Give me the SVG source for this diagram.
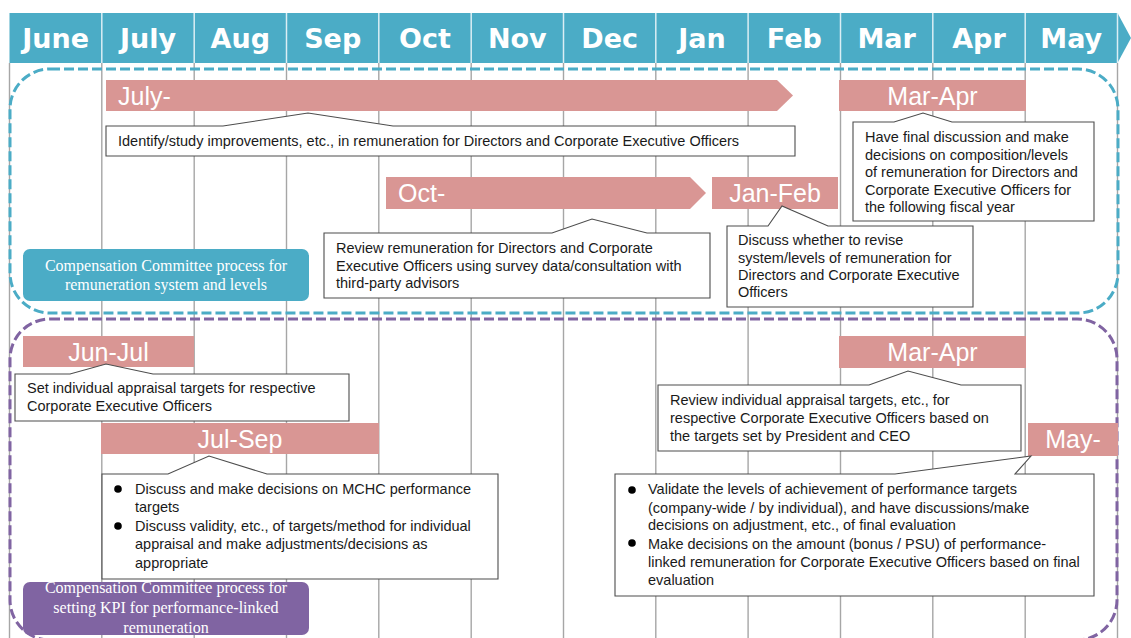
<svg xmlns="http://www.w3.org/2000/svg" width="1131" height="638" viewBox="0 0 1131 638">
<style>
.hdr{font-family:"DejaVu Sans",Verdana,sans-serif;font-weight:bold;font-size:27px;fill:#fff;text-anchor:middle}
.grid{stroke:#a6a6a6;stroke-width:1.4}
.hdiv{stroke:#dbeef4;stroke-width:1.5}
.bar{fill:#d99694}
.bt{font-family:"Liberation Sans",Arial,sans-serif;font-size:25px;fill:#fff}
.co{fill:#fff;stroke:#4d4d4d;stroke-width:1.1}
.ct{font-family:"Liberation Sans",Arial,sans-serif;font-size:14.5px;fill:#1a1a1a}
.lb{font-family:"Liberation Serif","Times New Roman",serif;font-size:16px;fill:#fff;text-anchor:middle}
.dash{fill:none;stroke-width:3;stroke-dasharray:10 4}
</style>
<rect width="1131" height="638" fill="#fff"/>
<g id="header">
<path d="M9.5,13 H1117.5 L1131,38 L1117.5,63 H9.5 Z" fill="#4bacc6"/>
<g class="hdiv">
<line x1="101.8" y1="13" x2="101.8" y2="63"/><line x1="194.2" y1="13" x2="194.2" y2="63"/><line x1="286.5" y1="13" x2="286.5" y2="63"/><line x1="378.8" y1="13" x2="378.8" y2="63"/><line x1="471.2" y1="13" x2="471.2" y2="63"/><line x1="563.5" y1="13" x2="563.5" y2="63"/><line x1="655.8" y1="13" x2="655.8" y2="63"/><line x1="748.1" y1="13" x2="748.1" y2="63"/><line x1="840.5" y1="13" x2="840.5" y2="63"/><line x1="932.8" y1="13" x2="932.8" y2="63"/><line x1="1025.2" y1="13" x2="1025.2" y2="63"/><line x1="1117.5" y1="13" x2="1117.5" y2="63"/>
</g>
<text class="hdr" x="55.7" y="48">June</text>
<text class="hdr" x="148" y="48">July</text>
<text class="hdr" x="240.3" y="48">Aug</text>
<text class="hdr" x="332.7" y="48">Sep</text>
<text class="hdr" x="425" y="48">Oct</text>
<text class="hdr" x="517.3" y="48">Nov</text>
<text class="hdr" x="609.7" y="48">Dec</text>
<text class="hdr" x="702" y="48">Jan</text>
<text class="hdr" x="794.3" y="48">Feb</text>
<text class="hdr" x="886.7" y="48">Mar</text>
<text class="hdr" x="979" y="48">Apr</text>
<text class="hdr" x="1071.3" y="48">May</text>
</g>
<g id="grid" class="grid">
<line x1="9.5" y1="63" x2="9.5" y2="638"/><line x1="101.8" y1="63" x2="101.8" y2="638"/><line x1="194.2" y1="63" x2="194.2" y2="638"/><line x1="286.5" y1="63" x2="286.5" y2="638"/><line x1="378.8" y1="63" x2="378.8" y2="638"/><line x1="471.2" y1="63" x2="471.2" y2="638"/><line x1="563.5" y1="63" x2="563.5" y2="638"/><line x1="655.8" y1="63" x2="655.8" y2="638"/><line x1="748.1" y1="63" x2="748.1" y2="638"/><line x1="840.5" y1="63" x2="840.5" y2="638"/><line x1="932.8" y1="63" x2="932.8" y2="638"/><line x1="1025.2" y1="63" x2="1025.2" y2="638"/><line x1="1117.5" y1="63" x2="1117.5" y2="638"/>
</g>
<g id="regions">
<rect class="dash" x="10" y="69" width="1108" height="244" rx="40" stroke="#4bacc6"/>
<rect class="dash" x="10" y="319" width="1107" height="321" rx="40" stroke="#8064a2"/>
</g>
<g id="bar-july">
<path class="bar" d="M106,80 H777 L793,95.5 L777,111 H106 Z"/>
<text class="bt" x="118" y="104.5">July-</text>
</g>
<g id="bar-marapr-top">
<rect class="bar" x="839" y="80" width="187" height="31"/>
<text class="bt" x="932.5" y="104.5" text-anchor="middle">Mar-Apr</text>
</g>
<g id="bar-oct">
<path class="bar" d="M386,177 H690 L706,193 L690,209 H386 Z"/>
<text class="bt" x="398" y="202">Oct-</text>
</g>
<g id="bar-janfeb">
<rect class="bar" x="712" y="177" width="126" height="32"/>
<text class="bt" x="775" y="202" text-anchor="middle">Jan-Feb</text>
</g>
<g id="bar-junjul">
<rect class="bar" x="23" y="336" width="171" height="31"/>
<text class="bt" x="108.5" y="360.5" text-anchor="middle">Jun-Jul</text>
</g>
<g id="bar-julsep">
<rect class="bar" x="101" y="423" width="278" height="31"/>
<text class="bt" x="240" y="447.5" text-anchor="middle">Jul-Sep</text>
</g>
<g id="bar-marapr-bottom">
<rect class="bar" x="839" y="336" width="187" height="32"/>
<text class="bt" x="932.5" y="361" text-anchor="middle">Mar-Apr</text>
</g>
<g id="bar-may">
<rect class="bar" x="1028" y="423" width="90" height="33"/>
<text class="bt" x="1073" y="448" text-anchor="middle">May-</text>
</g>
<g id="connectors">
<path class="co" d="M106,126 H223 L308,113 L393,126 H795 V156 H106 Z"/>
<path class="co" d="M324,233 H552 L592,219 L647,233 H710 V298 H324 Z"/>
<path class="co" d="M853,122 H894 L923,113 L952,122 H1094 V221 H853 Z"/>
<path class="co" d="M727,226 H768 L782,206 L828,226 H973 V307 H727 Z"/>
<path class="co" d="M15,374 H70 L106,364 L153,374 H349 V421 H15 Z"/>
<path class="co" d="M102,474 H168 L209,456 L267,474 H498 V579 H102 Z"/>
<path class="co" d="M658,385 H869 L908,371 L961,385 H1021 V451 H658 Z"/>
<path class="co" d="M615,474 H895 L1031,456 L1015,474 H1094 V596 H615 Z"/>
</g>
<g id="note-identify">
<text class="ct" x="118" y="146">Identify/study improvements, etc., in remuneration for Directors and Corporate Executive Officers</text>
</g>
<g id="note-review">
<text class="ct" x="336" y="253">Review remuneration for Directors and Corporate</text>
<text class="ct" x="336" y="270.5">Executive Officers using survey data/consultation with</text>
<text class="ct" x="336" y="288">third-party advisors</text>
</g>
<g id="note-final">
<text class="ct" x="865" y="142">Have final discussion and make</text>
<text class="ct" x="865" y="159.5">decisions on composition/levels</text>
<text class="ct" x="865" y="177">of remuneration for Directors and</text>
<text class="ct" x="865" y="194.5">Corporate Executive Officers for</text>
<text class="ct" x="865" y="212">the following fiscal year</text>
</g>
<g id="note-discuss">
<text class="ct" x="738" y="245">Discuss whether to revise</text>
<text class="ct" x="738" y="262.5">system/levels of remuneration for</text>
<text class="ct" x="738" y="280">Directors and Corporate Executive</text>
<text class="ct" x="738" y="297">Officers</text>
</g>
<g id="note-set">
<text class="ct" x="27" y="393">Set individual appraisal targets for respective</text>
<text class="ct" x="27" y="411">Corporate Executive Officers</text>
</g>
<g id="note-kpi">
<circle cx="118" cy="489" r="3.8" fill="#000"/>
<circle cx="118" cy="526" r="3.8" fill="#000"/>
<text class="ct" x="135" y="494">Discuss and make decisions on MCHC performance</text>
<text class="ct" x="135" y="512">targets</text>
<text class="ct" x="135" y="530.5">Discuss validity, etc., of targets/method for individual</text>
<text class="ct" x="135" y="549">appraisal and make adjustments/decisions as</text>
<text class="ct" x="135" y="567.5">appropriate</text>
</g>
<g id="note-review-individual">
<text class="ct" x="670" y="405">Review individual appraisal targets, etc., for</text>
<text class="ct" x="670" y="423">respective Corporate Executive Officers based on</text>
<text class="ct" x="670" y="441">the targets set by President and CEO</text>
</g>
<g id="note-validate">
<circle cx="632" cy="490" r="3.8" fill="#000"/>
<circle cx="632" cy="543" r="3.8" fill="#000"/>
<text class="ct" x="648" y="494">Validate the levels of achievement of performance targets</text>
<text class="ct" x="648" y="512.5">(company-wide / by individual), and have discussions/make</text>
<text class="ct" x="648" y="530">decisions on adjustment, etc., of final evaluation</text>
<text class="ct" x="648" y="549">Make decisions on the amount (bonus / PSU) of performance-</text>
<text class="ct" x="648" y="567">linked remuneration for Corporate Executive Officers based on final</text>
<text class="ct" x="648" y="585">evaluation</text>
</g>
<g id="label-system">
<rect x="23" y="249" width="286" height="52" rx="7" fill="#4bacc6"/>
<text class="lb" x="166" y="270.5">Compensation Committee process for</text>
<text class="lb" x="166" y="289.5">remuneration system and levels</text>
</g>
<g id="label-kpi">
<rect x="23" y="582" width="286" height="53" rx="7" fill="#8064a2"/>
<text class="lb" x="166" y="593">Compensation Committee process for</text>
<text class="lb" x="166" y="613">setting KPI for performance-linked</text>
<text class="lb" x="166" y="633">remuneration</text>
</g>
</svg>
